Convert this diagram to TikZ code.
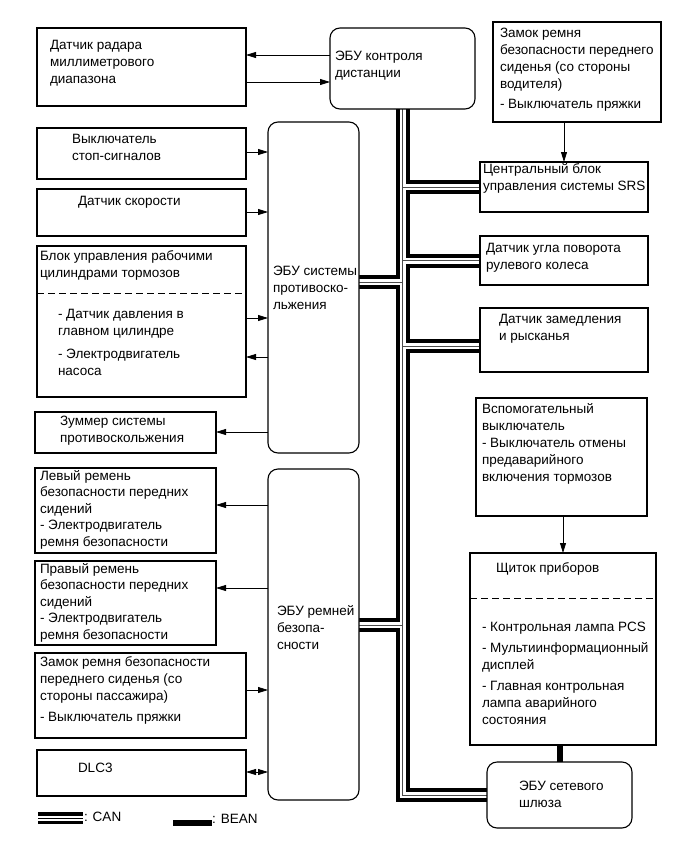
\documentclass[tikz,border=0pt]{standalone}
\usepackage{fontspec}
\setmainfont{Liberation Sans}
\usetikzlibrary{arrows.meta}
\pgfdeclarelayer{bg}
\pgfsetlayers{bg,main}
\begin{document}
\begin{tikzpicture}[x=1pt,y=-1pt,
  bx/.style={draw, line width=1.1pt, fill=white, inner sep=0pt, outer sep=0pt, anchor=north west},
  rbx/.style={bx, rounded corners=10pt},
  tx/.style={anchor=north west, align=left, inner sep=0pt, outer sep=0pt, font=\fontsize{13.5}{17}\selectfont, execute at begin node=\strut},
  txs/.style={tx, font=\fontsize{13.5}{16.5}\selectfont},
  arr/.style={line width=0.8pt, -{Triangle[length=10pt,width=6pt]}},
  darr/.style={line width=0.8pt, {Triangle[length=10pt,width=6pt]}-{Triangle[length=10pt,width=6pt]}},
  canA/.style={line width=14pt, black, line join=miter},
  canB/.style={line width=6pt, white, line join=miter},
  canC/.style={line width=0.7pt, black!70, line join=miter},
  bean/.style={line width=6pt, black},
  dsh/.style={line width=1pt, dash pattern=on 7pt off 4pt}]
\useasboundingbox (0,0) rectangle (690,856);
% boxes
\node[bx, minimum width=209pt, minimum height=78pt] (radar) at (37,28) {};
\node[rbx, minimum width=145pt, minimum height=81pt] (ecuA) at (330,28) {};
\node[bx, minimum width=168pt, minimum height=100pt] (drv) at (493,22) {};
\node[bx, minimum width=209pt, minimum height=51pt] (stop) at (37,128) {};
\node[bx, minimum width=209pt, minimum height=47pt] (speed) at (37,189) {};
\node[bx, minimum width=209pt, minimum height=151pt] (brk) at (37,246) {};
\node[rbx, minimum width=91pt, minimum height=331pt] (abs) at (268,122) {};
\node[bx, minimum width=181pt, minimum height=41pt] (buz) at (35,412) {};
\node[bx, minimum width=181pt, minimum height=85pt] (lbelt) at (35,468) {};
\node[bx, minimum width=181pt, minimum height=84pt] (rbelt) at (35,561) {};
\node[bx, minimum width=211pt, minimum height=85pt] (psg) at (35,653) {};
\node[bx, minimum width=209pt, minimum height=46pt] (dlc) at (37,750) {};
\node[rbx, minimum width=91pt, minimum height=331pt] (belt) at (268,469) {};
\node[bx, minimum width=168pt, minimum height=50pt] (srs) at (480,162) {};
\node[bx, minimum width=168pt, minimum height=49pt] (steer) at (480,236) {};
\node[bx, minimum width=168pt, minimum height=64pt] (yaw) at (480,308) {};
\node[bx, minimum width=171pt, minimum height=118pt] (aux) at (476,398) {};
\node[bx, minimum width=186pt, minimum height=192pt] (inst) at (470,553) {};
\node[rbx, minimum width=145pt, minimum height=66pt] (gw) at (487,762) {};
% dashed separators
\draw[dsh] (brk.west |- 0,293) coordinate (d1) -- (brk.east |- d1);
\draw[dsh] (inst.west |- 0,598) coordinate (d2) -- (inst.east |- d2);
% texts
\node[tx] (t1) at (50,40) {Датчик радара\\миллиметрового\\диапазона};
\node[tx] (t2) at (335,51) {ЭБУ контроля\\дистанции};
\node[tx] (t3) at (500,28) {Замок ремня\\безопасности переднего\\сиденья (со стороны\\водителя)\\[3pt]- Выключатель пряжки};
\node[tx] (t4) at (72,134) {Выключатель\\стоп-сигналов};
\node[tx] (t5) at (78,194) {Датчик скорости};
\node[tx] (t6) at (40,251) {Блок управления рабочими\\цилиндрами тормозов};
\node[tx] (t7) at (58,309) {- Датчик давления в\\главном цилиндре};
\node[tx] (t8) at (58,349) {- Электродвигатель\\насоса};
\node[tx] (t9) at (273,266) {ЭБУ системы\\противоско-\\льжения};
\node[tx] (t10) at (60,416) {Зуммер системы\\противоскольжения};
\node[txs] (t11) at (40,470) {Левый ремень\\безопасности передних\\сидений\\- Электродвигатель\\ремня безопасности};
\node[txs] (t12) at (40,563) {Правый ремень\\безопасности передних\\сидений\\- Электродвигатель\\ремня безопасности};
\node[tx] (t13) at (40,657) {Замок ремня безопасности\\переднего сиденья (со\\стороны пассажира)\\[4pt]- Выключатель пряжки};
\node[tx] (t14) at (78,761) {DLC3};
\node[tx] (t15) at (277,605) {ЭБУ ремней\\безопа-\\сности};
\node[tx] (t16) at (483,163) {Центральный блок\\управления системы SRS};
\node[tx] (t17) at (486,243) {Датчик угла поворота\\рулевого колеса};
\node[tx] (t18) at (499,314) {Датчик замедления\\и рысканья};
\node[tx] (t19) at (482,403) {Вспомогательный\\выключатель\\- Выключатель отмены\\предаварийного\\включения тормозов};
\node[tx] (t20) at (496,561) {Щиток приборов};
\node[tx] (t21) at (482,622) {- Контрольная лампа PCS\\[4pt]- Мультиинформационный\\дисплей\\[4pt]- Главная контрольная\\лампа аварийного\\состояния};
\node[tx] (t22) at (519,781) {ЭБУ сетевого\\шлюза};
% level coordinates
\coordinate (h55) at (0,55); \coordinate (h82) at (0,82);
\coordinate (h152) at (0,152); \coordinate (h212) at (0,212);
\coordinate (h318) at (0,318); \coordinate (h357) at (0,357);
\coordinate (h432) at (0,432); \coordinate (h505) at (0,505);
\coordinate (h588) at (0,588); \coordinate (h690) at (0,690);
\coordinate (h772) at (0,772);
\coordinate (c282) at (0,282); \coordinate (c346) at (0,346);
\coordinate (c625) at (0,625);
% arrows
\draw[arr] (ecuA.west |- h55) -- (radar.east |- h55);
\draw[arr] (radar.east |- h82) -- (ecuA.west |- h82);
\draw[arr] (stop.east |- h152) -- (abs.west |- h152);
\draw[arr] (speed.east |- h212) -- (abs.west |- h212);
\draw[arr] (brk.east |- h318) -- (abs.west |- h318);
\draw[arr] (abs.west |- h357) -- (brk.east |- h357);
\draw[arr] (abs.west |- h432) -- (buz.east |- h432);
\draw[arr] (belt.west |- h505) -- (lbelt.east |- h505);
\draw[arr] (belt.west |- h588) -- (rbelt.east |- h588);
\draw[arr] (psg.east |- h690) -- (belt.west |- h690);
\draw[darr] (dlc.east |- h772) -- (belt.west |- h772);
\draw[arr] (drv.south -| srs.north) -- (srs.north);
\draw[arr] (aux.south -| inst.north) -- (inst.north);
% CAN bus
\newcommand\canpaths[1]{%
  \draw[#1] (ecuA.south) -- (ecuA.south |- gw.west) -- (gw.west);
  \draw[#1] (ecuA.south |- srs.west) -- (srs.west);
  \draw[#1] (ecuA.south |- steer.west) -- (steer.west);
  \draw[#1] (ecuA.south |- c346) -- (yaw.west |- c346);
  \draw[#1] (abs.east |- c282) -- (ecuA.south |- c282);
  \draw[#1] (belt.east |- c625) -- (ecuA.south |- c625);
}
\begin{pgfonlayer}{bg}
\canpaths{canA}
\canpaths{canB}
\canpaths{canC}
\draw[bean] (gw.north) -- (gw.north |- inst.south);
\end{pgfonlayer}
% legend
\coordinate (lc1) at (38,818); \coordinate (lc2) at (83,818);
\draw[line width=12pt] (lc1) -- (lc2);
\draw[line width=5pt, white] (lc1) -- (lc2);
\draw[line width=0.7pt] (lc1) -- (lc2);
\node[tx, anchor=west] (lt1) at (84,818) {: CAN};
\coordinate (lb1) at (173,823); \coordinate (lb2) at (212,823);
\draw[bean] (lb1) -- (lb2);
\node[tx, anchor=west] (lt2) at (212,820) {: BEAN};
\end{tikzpicture}
\end{document}
